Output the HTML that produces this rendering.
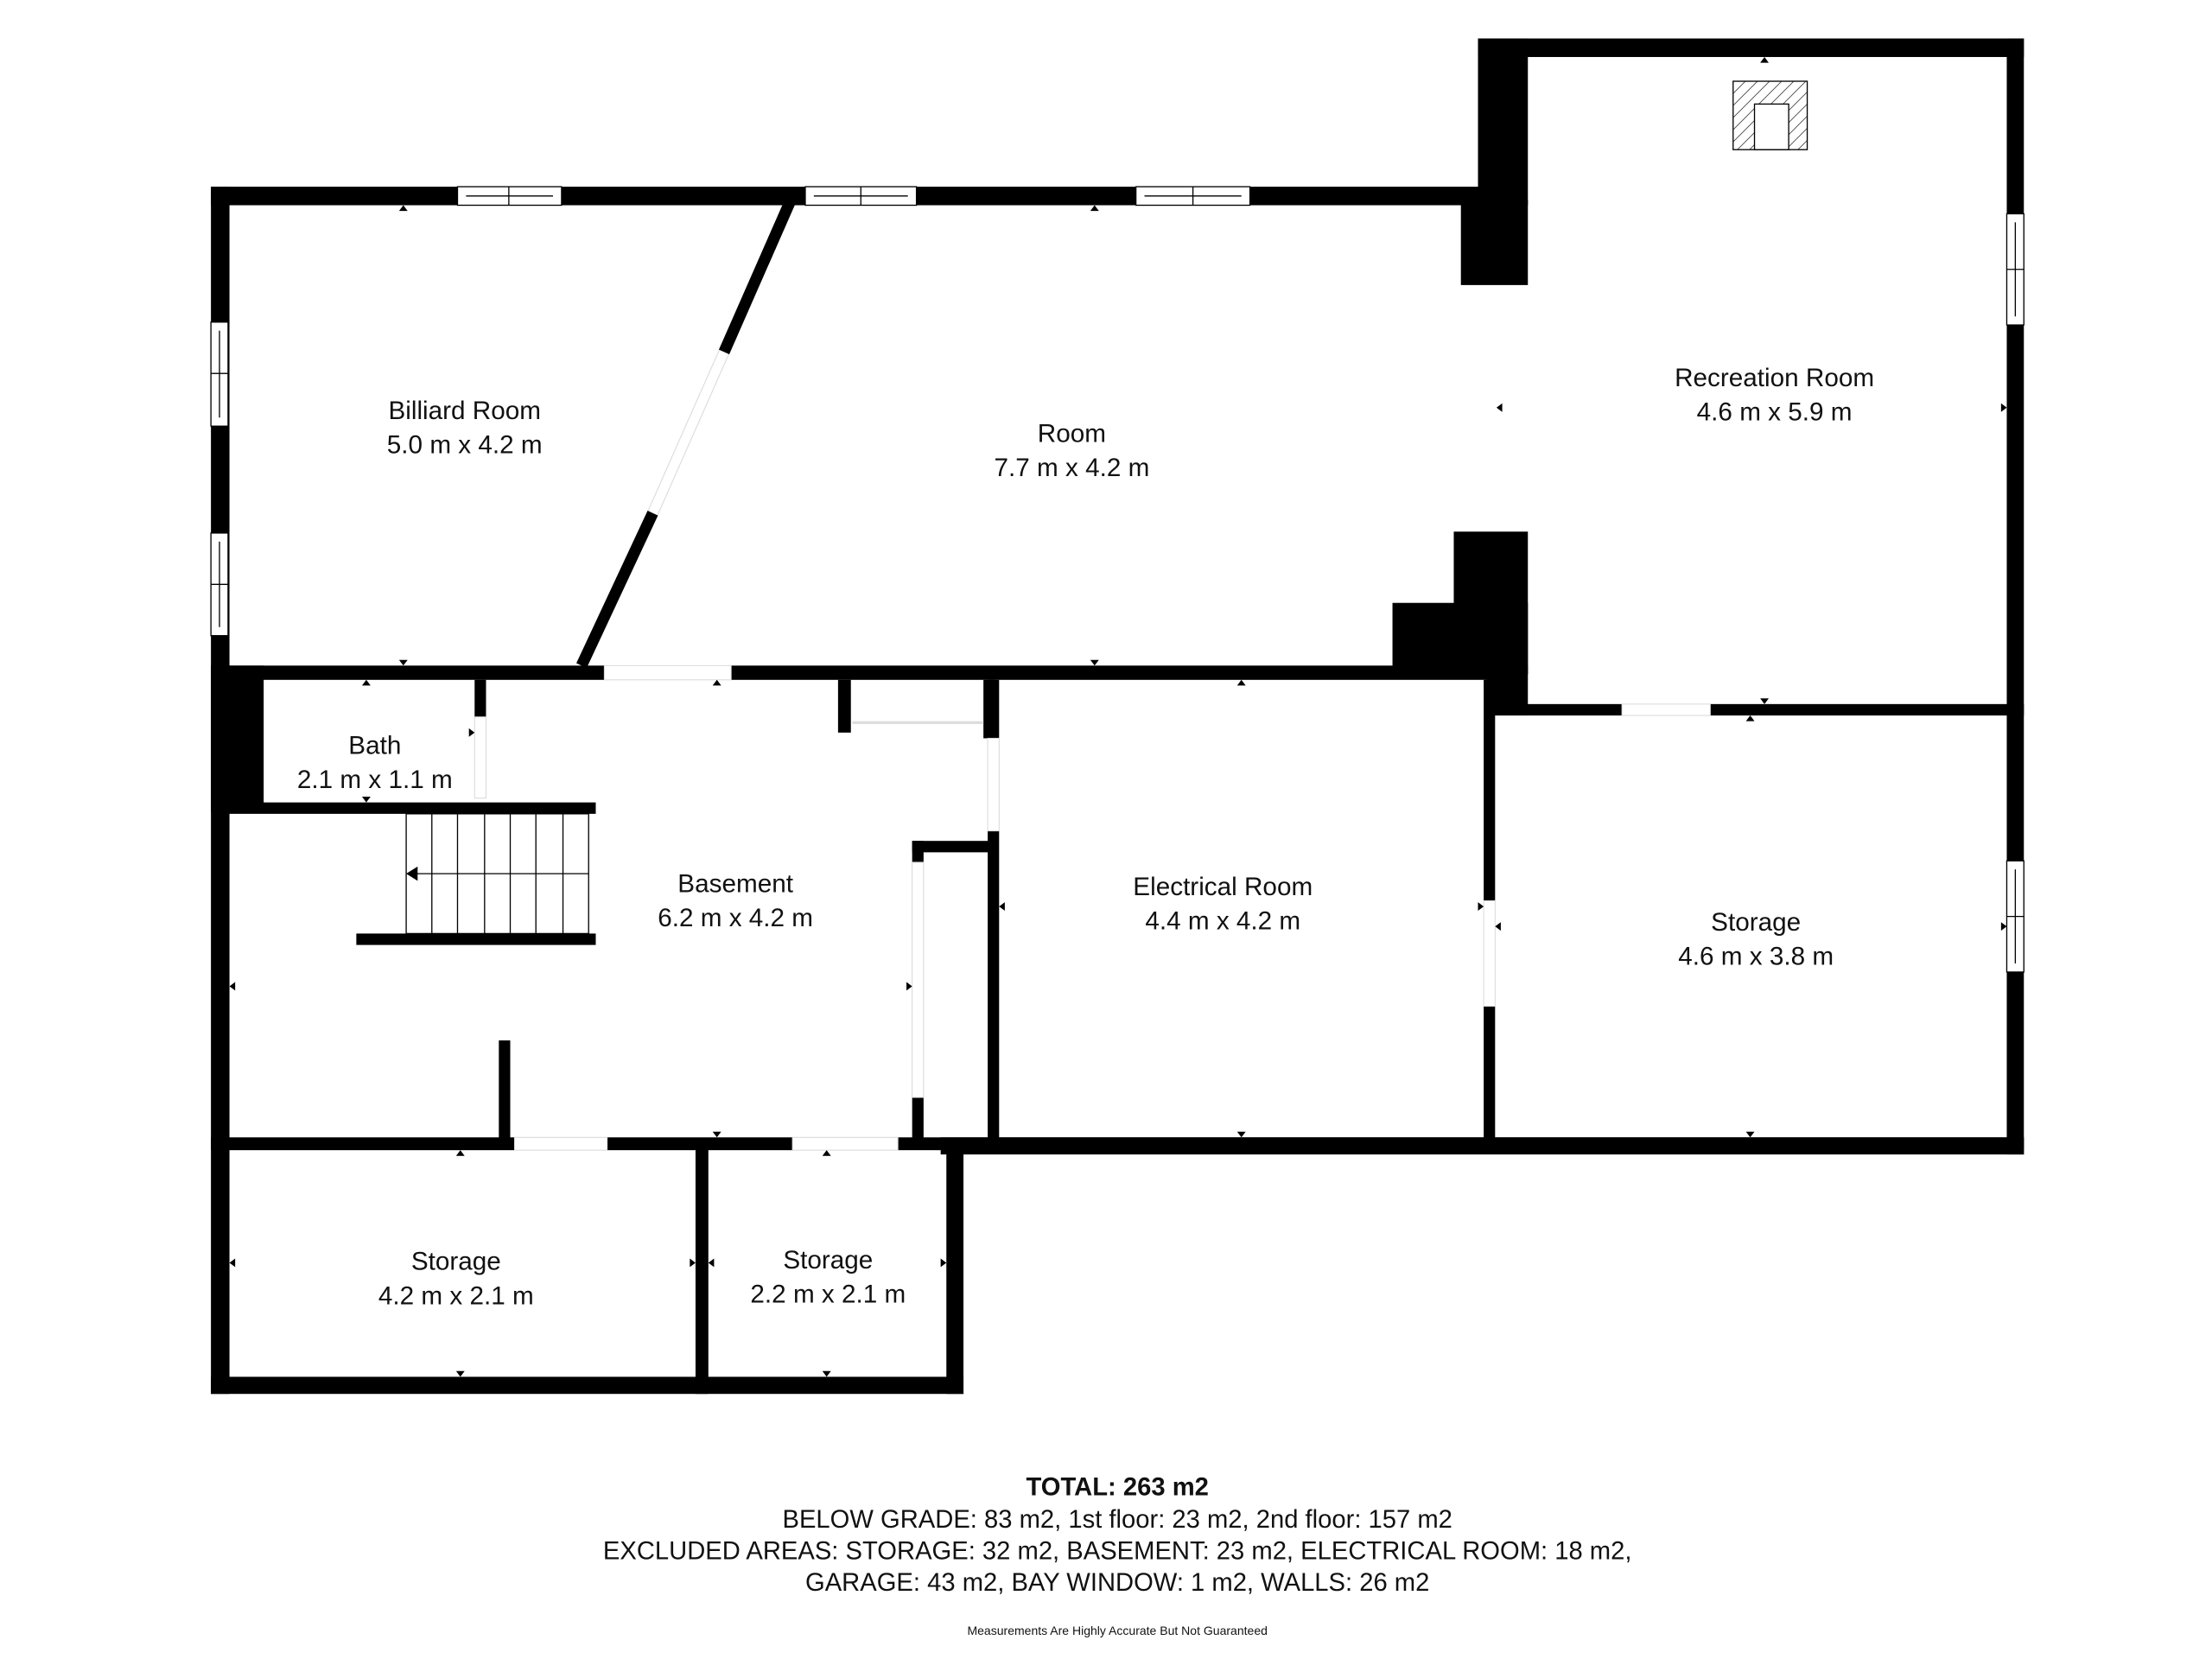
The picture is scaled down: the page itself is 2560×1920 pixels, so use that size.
<!DOCTYPE html>
<html><head><meta charset="utf-8"><style>
html,body{margin:0;padding:0;background:#fff;}
svg{display:block;}
text{font-family:"Liberation Sans",sans-serif;fill:#111;}
</style></head><body>
<svg width="2560" height="1920" viewBox="0 0 1552 1164" xmlns="http://www.w3.org/2000/svg">
<defs>
<pattern id="h" width="6" height="6" patternUnits="userSpaceOnUse" patternTransform="rotate(45)"><line x1="0" y1="0" x2="0" y2="6" stroke="#000" stroke-width="0.8"/></pattern>
</defs>
<rect width="1552" height="1164" fill="#fff"/>
<g fill="#000">
<rect x="148" y="131" width="900" height="13"/>
<rect x="148" y="131" width="13" height="847"/>
<rect x="1037" y="27" width="383" height="13"/>
<rect x="1037" y="27" width="35" height="117"/>
<rect x="1025" y="140" width="47" height="60"/>
<rect x="1408" y="27" width="12" height="783"/>
<rect x="1020" y="373" width="52" height="100"/>
<rect x="977" y="423" width="95" height="50"/>
<rect x="1043" y="467" width="29" height="35"/>
<rect x="1043" y="494" width="377" height="8"/>
<rect x="148" y="467" width="900" height="10"/>
<rect x="148" y="467" width="37" height="103"/>
<rect x="160" y="563" width="258" height="8"/>
<rect x="333" y="477" width="8" height="26"/>
<rect x="250" y="655" width="168" height="8"/>
<rect x="588" y="477" width="9" height="37"/>
<rect x="690" y="477" width="8" height="41"/>
<rect x="693" y="477" width="8" height="323"/>
<rect x="640" y="590" width="58" height="8"/>
<rect x="640" y="590" width="8" height="15"/>
<rect x="640" y="770" width="8" height="30"/>
<rect x="350" y="730" width="8" height="70"/>
<rect x="148" y="798" width="1272" height="9"/>
<rect x="660" y="798" width="760" height="12"/>
<rect x="1041" y="477" width="8" height="323"/>
<rect x="148" y="966" width="528" height="12"/>
<rect x="664" y="800" width="12" height="178"/>
<rect x="488" y="800" width="9" height="178"/>
</g>
<g fill="#fff" stroke="#d8d8d8" stroke-width="0.6">
<rect x="424" y="467" width="89" height="10"/>
<rect x="1138" y="494" width="62" height="8"/>
<rect x="333" y="503" width="8" height="57"/>
<rect x="693" y="518" width="8" height="65"/>
<rect x="640" y="605" width="8" height="165"/>
<rect x="361" y="798" width="65" height="9"/>
<rect x="556" y="798" width="74" height="9"/>
<rect x="1041" y="632" width="8" height="74"/>
</g>
<rect x="598" y="506" width="92" height="2" fill="#ddd"/>
<g fill="#fff" stroke="#000" stroke-width="0.8">
<rect x="321" y="131" width="73" height="13"/><line x1="357" y1="131" x2="357" y2="144"/><line x1="327" y1="137.5" x2="388" y2="137.5"/>
<rect x="565" y="131" width="78" height="13"/><line x1="604" y1="131" x2="604" y2="144"/><line x1="571" y1="137.5" x2="637" y2="137.5"/>
<rect x="797" y="131" width="80" height="13"/><line x1="837" y1="131" x2="837" y2="144"/><line x1="803" y1="137.5" x2="871" y2="137.5"/>
<rect x="148" y="226" width="12" height="73"/><line x1="148" y1="262" x2="160" y2="262"/><line x1="154" y1="232" x2="154" y2="293"/>
<rect x="148" y="374" width="12" height="72"/><line x1="148" y1="410" x2="160" y2="410"/><line x1="154" y1="380" x2="154" y2="440"/>
<rect x="1408" y="150" width="12" height="78"/><line x1="1408" y1="189" x2="1420" y2="189"/><line x1="1414" y1="156" x2="1414" y2="222"/>
<rect x="1408" y="604" width="12" height="78"/><line x1="1408" y1="643" x2="1420" y2="643"/><line x1="1414" y1="610" x2="1414" y2="676"/>
</g>
<line x1="555" y1="140" x2="508" y2="247" stroke="#000" stroke-width="8"/>
<line x1="508" y1="247" x2="458" y2="360" stroke="#ddd" stroke-width="8"/>
<line x1="508" y1="247" x2="458" y2="360" stroke="#fff" stroke-width="6.6"/>
<line x1="458" y1="360" x2="408" y2="467" stroke="#000" stroke-width="8"/>
<g stroke="#000" stroke-width="0.8" fill="none">
<rect x="285" y="571" width="128" height="84"/>
<line x1="303" y1="571" x2="303" y2="655"/><line x1="321" y1="571" x2="321" y2="655"/><line x1="340" y1="571" x2="340" y2="655"/><line x1="358" y1="571" x2="358" y2="655"/><line x1="376" y1="571" x2="376" y2="655"/><line x1="395" y1="571" x2="395" y2="655"/>
<line x1="290" y1="613" x2="413" y2="613"/>
</g>
<polygon points="285,613 293,608 293,618" fill="#000"/>
<rect x="1216" y="57" width="52" height="48" fill="url(#h)" stroke="#000" stroke-width="0.8"/>
<rect x="1231" y="73" width="24" height="32" fill="#fff" stroke="#000" stroke-width="0.8"/>
<g fill="#000">
<polygon points="283,144 280,148 286,148"/>
<polygon points="768,144 765,148 771,148"/>
<polygon points="1238,40 1235,44 1241,44"/>
<polygon points="283,467 280,463 286,463"/>
<polygon points="768,467 765,463 771,463"/>
<polygon points="871,477 868,481 874,481"/>
<polygon points="503,477 500,481 506,481"/>
<polygon points="257,477 254,481 260,481"/>
<polygon points="257,563 254,559 260,559"/>
<polygon points="1238,494 1235,490 1241,490"/>
<polygon points="1228,502 1225,506 1231,506"/>
<polygon points="871,798 868,794 874,794"/>
<polygon points="1228,798 1225,794 1231,794"/>
<polygon points="503,798 500,794 506,794"/>
<polygon points="323,807 320,811 326,811"/>
<polygon points="580,807 577,811 583,811"/>
<polygon points="323,966 320,962 326,962"/>
<polygon points="580,966 577,962 583,962"/>
<polygon points="1408,286 1404,283 1404,289"/>
<polygon points="1408,650 1404,647 1404,653"/>
<polygon points="1050,286 1054,283 1054,289"/>
<polygon points="1049,650 1053,647 1053,653"/>
<polygon points="1041,636 1037,633 1037,639"/>
<polygon points="701,636 705,633 705,639"/>
<polygon points="640,692 636,689 636,695"/>
<polygon points="161,692 165,689 165,695"/>
<polygon points="161,886 165,883 165,889"/>
<polygon points="488,886 484,883 484,889"/>
<polygon points="497,886 501,883 501,889"/>
<polygon points="664,886 660,883 660,889"/>
<polygon points="173,514 177,511 177,517"/>
<polygon points="333,514 329,511 329,517"/>
</g>
<g font-size="18" text-anchor="middle">
<text x="326" y="294">Billiard Room</text><text x="326" y="318">5.0 m x 4.2 m</text>
<text x="752" y="310">Room</text><text x="752" y="334">7.7 m x 4.2 m</text>
<text x="1245" y="271">Recreation Room</text><text x="1245" y="295">4.6 m x 5.9 m</text>
<text x="263" y="529">Bath</text><text x="263" y="553">2.1 m x 1.1 m</text>
<text x="516" y="626">Basement</text><text x="516" y="650">6.2 m x 4.2 m</text>
<text x="858" y="628">Electrical Room</text><text x="858" y="652">4.4 m x 4.2 m</text>
<text x="1232" y="653">Storage</text><text x="1232" y="677">4.6 m x 3.8 m</text>
<text x="320" y="891">Storage</text><text x="320" y="915">4.2 m x 2.1 m</text>
<text x="581" y="890">Storage</text><text x="581" y="914">2.2 m x 2.1 m</text>
</g>
<g text-anchor="middle" font-size="17.7">
<text x="784" y="1049" font-weight="bold">TOTAL: 263 m2</text>
<text x="784" y="1072">BELOW GRADE: 83 m2, 1st floor: 23 m2, 2nd floor: 157 m2</text>
<text x="784" y="1094">EXCLUDED AREAS: STORAGE: 32 m2, BASEMENT: 23 m2, ELECTRICAL ROOM: 18 m2,</text>
<text x="784" y="1116">GARAGE: 43 m2, BAY WINDOW: 1 m2, WALLS: 26 m2</text>
<text x="784" y="1147" font-size="8.5">Measurements Are Highly Accurate But Not Guaranteed</text>
</g>
</svg>
</body></html>
